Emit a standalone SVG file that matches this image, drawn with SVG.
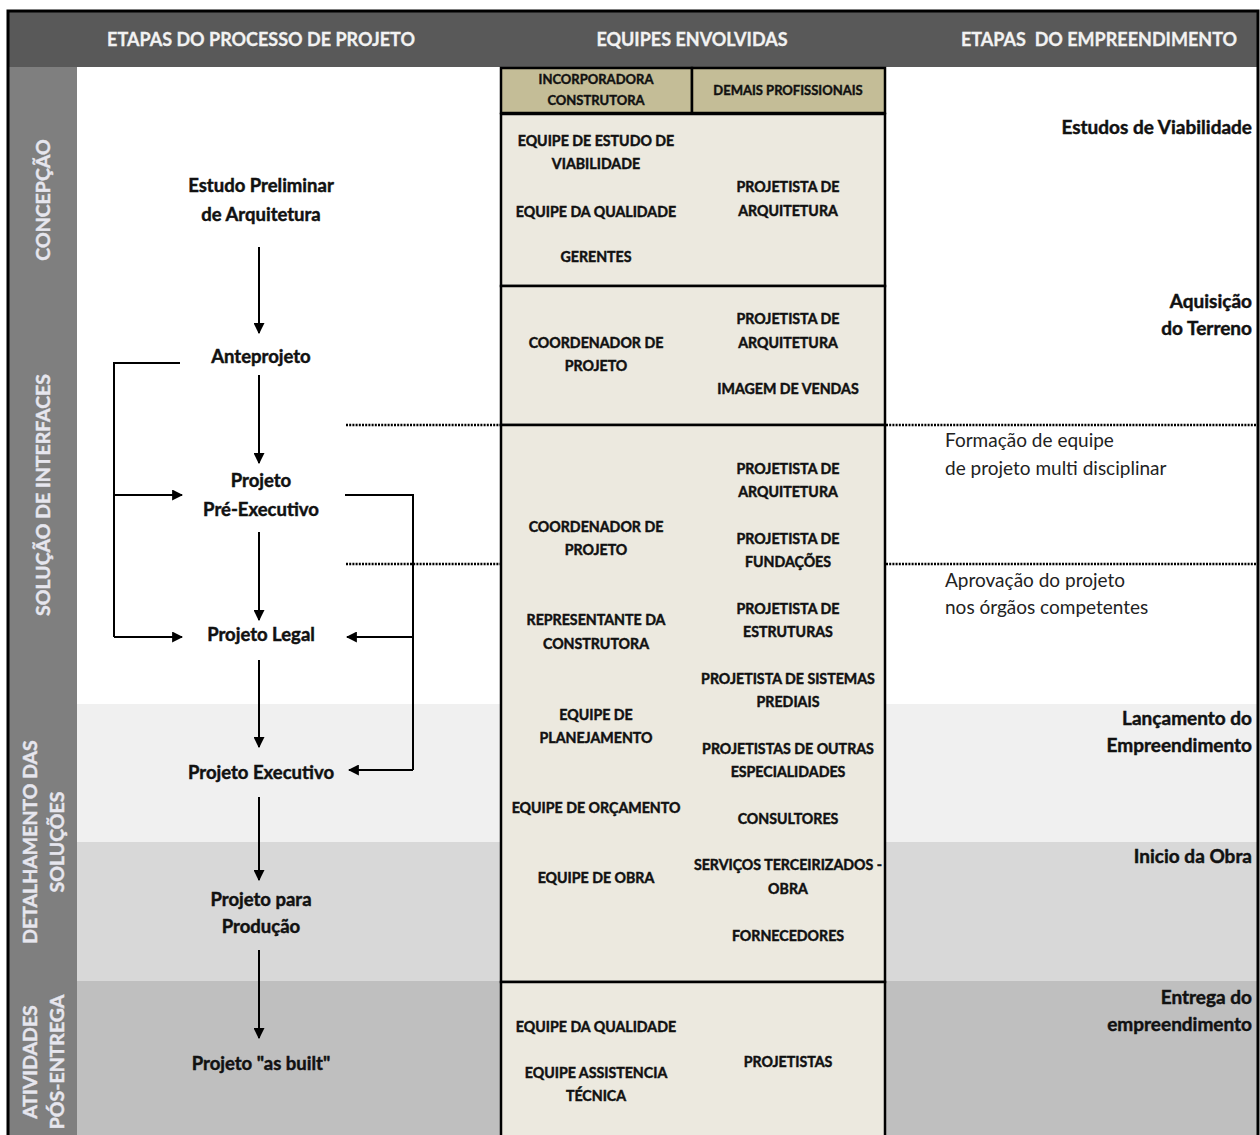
<svg xmlns="http://www.w3.org/2000/svg" width="1260" height="1135" viewBox="0 0 1260 1135">
<defs>
<style>
text{font-family:Lato,"Open Sans","Liberation Sans",sans-serif;}
.hd{font-size:18px;font-weight:bold;fill:#f2f2f2;stroke:#f2f2f2;stroke-width:0.3;text-anchor:middle;}
.sd{font-size:19.5px;font-weight:bold;fill:#e6e6ee;stroke:#e6e6ee;stroke-width:0.4;text-anchor:middle;}
.nd{font-size:18.5px;font-weight:bold;fill:#111;stroke:#111;stroke-width:0.45;text-anchor:middle;}
.tc{font-size:14.2px;font-weight:bold;fill:#111;stroke:#111;stroke-width:0.45;text-anchor:middle;}
.th{font-size:13px;font-weight:bold;fill:#111;stroke:#111;stroke-width:0.4;text-anchor:middle;}
.rb{font-size:19px;font-weight:bold;fill:#111;stroke:#111;stroke-width:0.45;text-anchor:end;}
.rn{font-size:19px;fill:#222;}
.ln{stroke:#000;stroke-width:2;fill:none;}
.dot{stroke:#000;stroke-width:2.5;stroke-dasharray:2,1.2;fill:none;}
.cell{fill:#ece9df;stroke:#000;stroke-width:2.5;}
</style>
<marker id="ah2" viewBox="0 0 10 10" refX="9" refY="5" markerWidth="11" markerHeight="11" orient="auto" markerUnits="userSpaceOnUse">
<path d="M0,0 L10,5 L0,10 z" fill="#000"/>
</marker>
</defs>
<rect width="1260" height="1135" fill="#fff"/>
<g id="bands">
<rect x="9" y="67" width="1249" height="637" fill="#ffffff"/>
<rect x="9" y="704" width="1249" height="138" fill="#f0f0f0"/>
<rect x="9" y="842" width="1249" height="139" fill="#d8d8d8"/>
<rect x="9" y="981" width="1249" height="154" fill="#bfbfbf"/>
<rect x="9" y="67" width="68" height="1068" fill="#7f7f7f"/>
<rect x="9" y="12" width="1249" height="55" fill="#595959"/>
<path d="M8,1135 V11 H1258 V1135" fill="none" stroke="#000" stroke-width="3"/>
</g>
<g id="headers">
<text class="hd" x="261" y="46">ETAPAS DO PROCESSO DE PROJETO</text>
<text class="hd" x="692" y="46">EQUIPES ENVOLVIDAS</text>
<text class="hd" x="1099" y="46" xml:space="preserve">ETAPAS  DO EMPREENDIMENTO</text>
</g>
<g id="sidebar">
<text class="sd" transform="translate(50,200) rotate(-90)">CONCEPÇÃO</text>
<text class="sd" transform="translate(50,495) rotate(-90)">SOLUÇÃO DE INTERFACES</text>
<text class="sd" transform="translate(37,842) rotate(-90)">DETALHAMENTO DAS</text>
<text class="sd" transform="translate(64,842) rotate(-90)">SOLUÇÕES</text>
<text class="sd" transform="translate(37,1062) rotate(-90)">ATIVIDADES</text>
<text class="sd" transform="translate(64,1062) rotate(-90)">PÓS-ENTREGA</text>
</g>
<g id="table">
<rect x="501" y="68" width="191" height="45" fill="#c4bd97" stroke="#000" stroke-width="2.5"/>
<rect x="692" y="68" width="193" height="45" fill="#c4bd97" stroke="#000" stroke-width="2.5"/>
<rect class="cell" x="501" y="114" width="384" height="172"/>
<rect class="cell" x="501" y="286" width="384" height="139"/>
<rect class="cell" x="501" y="425" width="384" height="557"/>
<rect class="cell" x="501" y="982" width="384" height="160"/>
<text class="th" x="596" y="84">INCORPORADORA</text>
<text class="th" x="596" y="105">CONSTRUTORA</text>
<text class="th" x="788" y="95">DEMAIS PROFISSIONAIS</text>
</g>
<g id="cells">
<text class="tc" x="596" y="146">EQUIPE DE ESTUDO DE</text>
<text class="tc" x="596" y="169">VIABILIDADE</text>
<text class="tc" x="596" y="217">EQUIPE DA QUALIDADE</text>
<text class="tc" x="596" y="262">GERENTES</text>
<text class="tc" x="788" y="192">PROJETISTA DE</text>
<text class="tc" x="788" y="216">ARQUITETURA</text>
<text class="tc" x="596" y="348">COORDENADOR DE</text>
<text class="tc" x="596" y="371">PROJETO</text>
<text class="tc" x="788" y="324">PROJETISTA DE</text>
<text class="tc" x="788" y="348">ARQUITETURA</text>
<text class="tc" x="788" y="394">IMAGEM DE VENDAS</text>
<text class="tc" x="596" y="532">COORDENADOR DE</text>
<text class="tc" x="596" y="555">PROJETO</text>
<text class="tc" x="596" y="625">REPRESENTANTE DA</text>
<text class="tc" x="596" y="649">CONSTRUTORA</text>
<text class="tc" x="596" y="720">EQUIPE DE</text>
<text class="tc" x="596" y="743">PLANEJAMENTO</text>
<text class="tc" x="596" y="813">EQUIPE DE ORÇAMENTO</text>
<text class="tc" x="596" y="883">EQUIPE DE OBRA</text>
<text class="tc" x="788" y="474">PROJETISTA DE</text>
<text class="tc" x="788" y="497">ARQUITETURA</text>
<text class="tc" x="788" y="544">PROJETISTA DE</text>
<text class="tc" x="788" y="567">FUNDAÇÕES</text>
<text class="tc" x="788" y="614">PROJETISTA DE</text>
<text class="tc" x="788" y="637">ESTRUTURAS</text>
<text class="tc" x="788" y="684">PROJETISTA DE SISTEMAS</text>
<text class="tc" x="788" y="707">PREDIAIS</text>
<text class="tc" x="788" y="754">PROJETISTAS DE OUTRAS</text>
<text class="tc" x="788" y="777">ESPECIALIDADES</text>
<text class="tc" x="788" y="824">CONSULTORES</text>
<text class="tc" x="788" y="870">SERVIÇOS TERCEIRIZADOS -</text>
<text class="tc" x="788" y="894">OBRA</text>
<text class="tc" x="788" y="941">FORNECEDORES</text>
<text class="tc" x="596" y="1032">EQUIPE DA QUALIDADE</text>
<text class="tc" x="596" y="1078">EQUIPE ASSISTENCIA</text>
<text class="tc" x="596" y="1101">TÉCNICA</text>
<text class="tc" x="788" y="1067">PROJETISTAS</text>
</g>
<g id="n-estudo"><text class="nd" x="261" y="192">Estudo Preliminar</text><text class="nd" x="261" y="221">de Arquitetura</text></g>
<g id="n-ante"><text class="nd" x="261" y="363">Anteprojeto</text></g>
<g id="n-pre"><text class="nd" x="261" y="487">Projeto</text><text class="nd" x="261" y="516">Pré-Executivo</text></g>
<g id="n-legal"><text class="nd" x="261" y="641">Projeto Legal</text></g>
<g id="n-exec"><text class="nd" x="261" y="779">Projeto Executivo</text></g>
<g id="n-prod"><text class="nd" x="261" y="906">Projeto para</text><text class="nd" x="261" y="933">Produção</text></g>
<g id="n-asbuilt"><text class="nd" x="261" y="1070">Projeto "as built"</text></g>
<g id="milestones">
<text class="rb" x="1252" y="134">Estudos de Viabilidade</text>
<text class="rb" x="1252" y="308">Aquisição</text>
<text class="rb" x="1252" y="335">do Terreno</text>
<text class="rn" x="945" y="447">Formação de equipe</text>
<text class="rn" x="945" y="475">de projeto multi disciplinar</text>
<text class="rn" x="945" y="587">Aprovação do projeto</text>
<text class="rn" x="945" y="614">nos órgãos competentes</text>
<text class="rb" x="1252" y="725">Lançamento do</text>
<text class="rb" x="1252" y="752">Empreendimento</text>
<text class="rb" x="1252" y="863">Inicio da Obra</text>
<text class="rb" x="1252" y="1004">Entrega do</text>
<text class="rb" x="1252" y="1031">empreendimento</text>
</g>
<g id="dividers">
<line class="dot" x1="346" y1="425" x2="500" y2="425"/>
<line class="dot" x1="886" y1="425" x2="1257" y2="425"/>
<line class="dot" x1="346" y1="564" x2="500" y2="564"/>
<line class="dot" x1="886" y1="564" x2="1257" y2="564"/>
</g>
<g id="connectors">
<line class="ln" x1="259" y1="247" x2="259" y2="333" marker-end="url(#ah2)"/>
<line class="ln" x1="259" y1="375" x2="259" y2="463" marker-end="url(#ah2)"/>
<line class="ln" x1="259" y1="532" x2="259" y2="620" marker-end="url(#ah2)"/>
<line class="ln" x1="259" y1="660" x2="259" y2="747" marker-end="url(#ah2)"/>
<line class="ln" x1="259" y1="797" x2="259" y2="880" marker-end="url(#ah2)"/>
<line class="ln" x1="259" y1="950" x2="259" y2="1038" marker-end="url(#ah2)"/>
<polyline class="ln" points="180,363 114,363 114,637"/>
<line class="ln" x1="114" y1="495" x2="182" y2="495" marker-end="url(#ah2)"/>
<line class="ln" x1="114" y1="637" x2="182" y2="637" marker-end="url(#ah2)"/>
<polyline class="ln" points="345,495 413,495 413,770"/>
<line class="ln" x1="413" y1="637" x2="347" y2="637" marker-end="url(#ah2)"/>
<line class="ln" x1="413" y1="770" x2="349" y2="770" marker-end="url(#ah2)"/>
</g>
</svg>
